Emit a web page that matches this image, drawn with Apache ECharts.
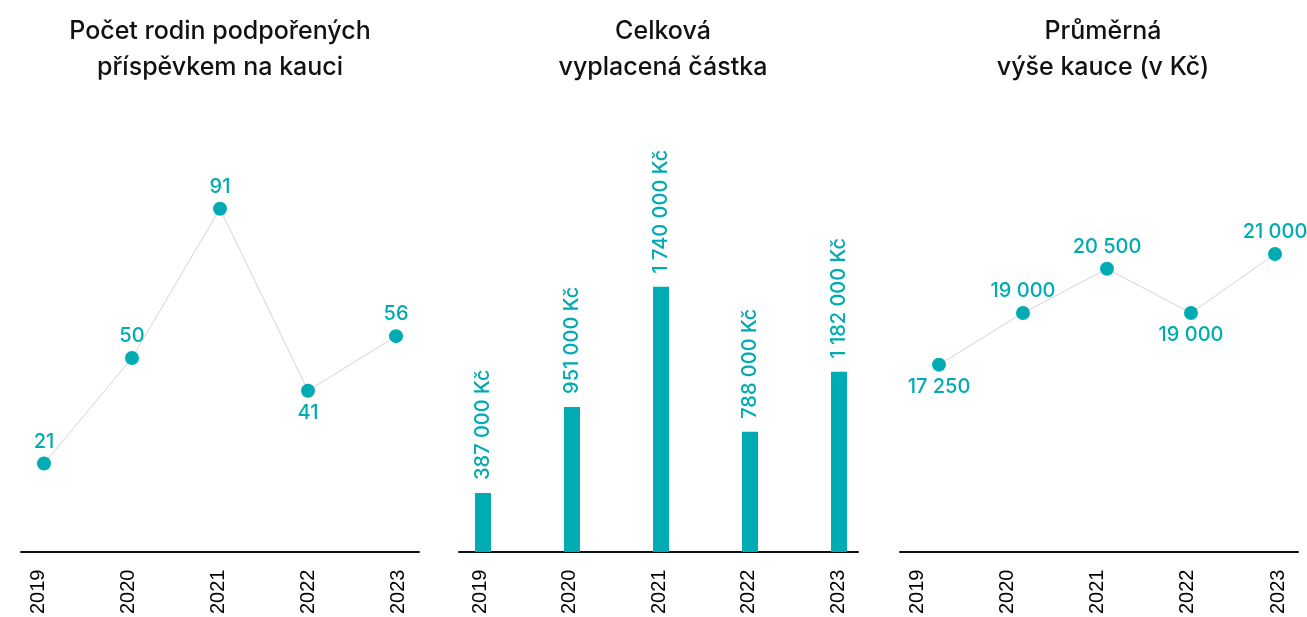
<!DOCTYPE html>
<html>
<head>
<meta charset="utf-8">
<title>Příspěvek na kauci</title>
<script src="https://cdn.jsdelivr.net/npm/echarts@6.0.0/dist/echarts.min.js"></script>
<style>
    html, body { margin: 0; padding: 0; background: #fff; }
    #main { width: 1307px; height: 617px; }
</style>
</head>
<body>
<div id="main"></div>
<script>
// data
var years = ['2019', '2020', '2021', '2022', '2023'];
var families = [21, 50, 91, 41, 56];
var totalPaid = [387000, 951000, 1740000, 788000, 1182000];
var avgDeposit = [17250, 19000, 20500, 19000, 21000];

var teal = '#00abb3';
var font = 'Inter, "Noto Sans", sans-serif';

function fmt(v) {
    return String(v).replace(/\B(?=(\d{3})+(?!\d))/g, ' ');
}

// layout of the three panels: axis line span, label span, mark span (left, width)
var panels = [
    { title: 'Počet rodin podpořených\npříspěvkem na kauci', cx: 220,
      line: [21, 398], labels: [38, 360], marks: [44, 352], top: 176, min: -3.3, max: 100 },
    { title: 'Celková\nvyplacená částka', cx: 663,
      line: [459, 399], labels: [480, 358], marks: [483, 356], top: 247, min: 0, max: 2000000 },
    { title: 'Průměrná\nvýše kauce (v Kč)', cx: 1103,
      line: [900, 398], labels: [917, 361], marks: [939, 336], top: 136, min: 10900, max: 25000 }
];

var grids = [], xAxes = [], yAxes = [], titles = [];
panels.forEach(function (p) {
    // axis line grid
    grids.push({ left: p.line[0], width: p.line[1], top: p.top, bottom: 65 });
    xAxes.push({
        gridIndex: grids.length - 1, type: 'category', data: years, boundaryGap: false,
        axisLine: { onZero: false, lineStyle: { color: '#111', width: 2 } },
        axisTick: { show: false }, axisLabel: { show: false }
    });
    yAxes.push({ gridIndex: grids.length - 1, type: 'value', show: false });

    // year labels grid
    grids.push({ left: p.labels[0], width: p.labels[1], top: p.top, bottom: 65 });
    xAxes.push({
        gridIndex: grids.length - 1, type: 'category', data: years, boundaryGap: false,
        axisLine: { show: false }, axisTick: { show: false },
        axisLabel: { interval: 0, rotate: 90, margin: 20, color: '#000',
            fontFamily: '"Liberation Sans", Arial, sans-serif', fontSize: 20 }
    });
    yAxes.push({ gridIndex: grids.length - 1, type: 'value', show: false });

    // marks grid
    grids.push({ left: p.marks[0], width: p.marks[1], top: p.top, bottom: 65 });
    xAxes.push({ gridIndex: grids.length - 1, type: 'category', data: years, boundaryGap: false, show: false });
    yAxes.push({ gridIndex: grids.length - 1, type: 'value', show: false, min: p.min, max: p.max });

    titles.push({
        type: 'text', x: p.cx, y: 13,
        style: { text: p.title, textAlign: 'center', fill: '#111',
            font: '500 25px ' + font, lineHeight: 36 }
    });
});

function lineSeries(idx, values, below) {
    return {
        type: 'line', xAxisIndex: idx, yAxisIndex: idx,
        data: values.map(function (v, i) {
            return { value: v, label: { position: below.indexOf(i) >= 0 ? 'bottom' : 'top' } };
        }),
        symbol: 'circle', symbolSize: 14,
        itemStyle: { color: teal },
        lineStyle: { color: '#d4d4d4', width: 1 },
        label: {
            show: true, distance: 5, color: teal, fontFamily: font, fontSize: 20, fontWeight: 500,
            formatter: function (d) { return fmt(d.value); }
        },
        z: 3
    };
}

var myChart = echarts.init(document.getElementById('main'));
var option = {
    animation: false,
    graphic: titles,
    grid: grids,
    xAxis: xAxes,
    yAxis: yAxes,
    series: [
        lineSeries(2, families, [3]),
        {
            type: 'bar', xAxisIndex: 5, yAxisIndex: 5,
            data: totalPaid, barWidth: 16,
            itemStyle: { color: teal },
            label: {
                show: true, position: 'top', distance: 13, rotate: 90,
                align: 'left', verticalAlign: 'middle',
                color: teal, fontFamily: font, fontSize: 20, fontWeight: 500,
                formatter: function (d) { return fmt(d.value) + ' Kč'; }
            }
        },
        lineSeries(8, avgDeposit, [0, 3])
    ]
};
myChart.setOption(option);
</script>
</body>
</html>
